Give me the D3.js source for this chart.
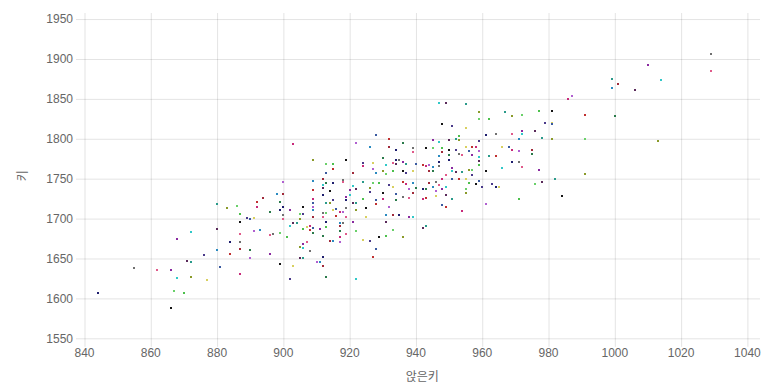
<!DOCTYPE html>
<html>
<head>
<meta charset="utf-8">
<script src="https://cdn.jsdelivr.net/npm/d3@7/dist/d3.min.js"></script>
<style>
  html, body { margin: 0; padding: 0; background: #fff; }
  svg { display: block; }
  text { font-family: "Liberation Sans", Arial, "Noto Sans CJK KR", sans-serif; }
</style>
</head>
<body>
<svg id="chart" width="779" height="388"></svg>
<script>
// sitting height (앉은키) and height (키) per person
const sittingHeight = [
  844,855,862,866,868,871,872,872,867,870,866,876,877,881,884,887,890,880,887,890,
  884,887,887,868,872,880,880,883,886,887,887,889,891,890,892,892,891,893,894,896,
  899,897,896,896,947,949,955,959,959,962,948,951,955,928,932,903,922,926,932,936,
  934,939,939,945,947,950,952,953,945,948,950,952,955,956,957,958,959,947,948,950,
  950,953,954,957,959,959,962,909,913,915,919,924,927,913,915,924,927,928,921,930,
  934,935,933,936,931,934,937,930,931,933,936,937,939,940,942,943,944,945,944,945,
  947,947,949,951,951,952,954,956,957,959,961,957,955,951,953,948,900,909,912,913,
  915,918,918,920,921,922,924,926,927,929,930,932,933,934,936,937,938,939,939,940,
  942,946,947,948,949,949,951,955,955,956,958,960,946,948,949,954,961,898,900,899,
  900,900,900,902,902,903,904,905,905,906,906,906,907,909,909,909,909,909,909,909,
  912,912,912,911,912,912,913,914,913,913,914,915,915,916,916,917,918,917,917,917,
  919,919,919,919,920,921,922,922,922,924,925,926,925,928,928,930,932,931,933,934,
  935,936,938,938,939,942,943,936,933,931,929,926,924,928,927,917,917,915,914,912,
  912,908,907,906,906,905,906,905,899,901,899,902,903,909,908,908,910,911,912,913,
  913,918,919,921,922,931,967,969,972,977,981,979,981,981,991,986,987,999,1001,1000,
  961,964,969,972,972,976,978,981,991,953,943,959,966,968,964,969,971,971,975,975,
  969,971,972,977,966,978,982,991,976,971,984,963,965,959,943,942,946,945,944,943,
  964,1029,1029,1010,1014,1006,999,1013
];
const height = [
  1607,1638,1636,1636,1626,1647,1645,1627,1609,1607,1588,1654,1623,1639,1656,1631,1650,1661,1662,1661,
  1671,1671,1681,1675,1683,1687,1718,1713,1716,1706,1696,1701,1701,1699,1721,1715,1684,1686,1726,1708,
  1711,1681,1679,1656,1845,1845,1844,1834,1825,1825,1819,1816,1813,1805,1800,1794,1795,1790,1790,1795,
  1786,1788,1783,1798,1796,1798,1800,1798,1788,1788,1786,1786,1790,1785,1790,1790,1785,1778,1783,1780,
  1773,1781,1780,1780,1777,1772,1779,1773,1769,1769,1773,1770,1770,1757,1762,1766,1762,1757,1757,1776,
  1773,1773,1770,1771,1767,1768,1768,1759,1756,1760,1760,1757,1760,1768,1767,1766,1767,1765,1760,1760,
  1771,1766,1755,1764,1760,1758,1758,1761,1761,1767,1760,1754,1750,1750,1750,1750,1746,1747,1749,1745,
  1744,1748,1746,1736,1741,1737,1746,1738,1745,1745,1732,1742,1739,1731,1746,1743,1737,1744,1732,1738,
  1737,1746,1742,1737,1739,1730,1725,1732,1737,1744,1743,1740,1728,1717,1715,1709,1718,1731,1731,1721,
  1715,1705,1700,1711,1691,1694,1694,1700,1706,1687,1715,1706,1690,1719,1736,1725,1715,1711,1702,1682,
  1730,1707,1702,1687,1742,1738,1719,1719,1707,1690,1734,1723,1711,1712,1703,1708,1708,1695,1691,1685,
  1723,1713,1702,1727,1730,1720,1720,1711,1684,1724,1713,1733,1702,1723,1718,1725,1715,1705,1704,1723,
  1705,1727,1726,1702,1702,1688,1691,1677,1686,1678,1677,1672,1673,1662,1652,1677,1671,1672,1672,1678,
  1652,1660,1671,1668,1663,1651,1651,1665,1682,1677,1643,1624,1641,1688,1686,1691,1646,1646,1641,1627,
  1696,1695,1681,1696,1624,1696,1834,1828,1830,1835,1835,1820,1820,1818,1830,1850,1854,1864,1869,1829,
  1805,1806,1806,1810,1806,1810,1801,1800,1800,1804,1788,1797,1790,1790,1778,1786,1785,1800,1786,1781,
  1771,1771,1765,1761,1763,1746,1750,1756,1743,1725,1728,1743,1740,1747,1726,1724,1734,1740,1745,1737,
  1739,1906,1885,1893,1874,1861,1875,1797
];
const xTicks = [840, 860, 880, 900, 920, 940, 960, 980, 1000, 1020, 1040];
const yTicks = [1550, 1600, 1650, 1700, 1750, 1800, 1850, 1900, 1950];
const pointColors = [
  "#1e1e6e", "#8a2aa0", "#2a9a8a", "#4cc04c", "#d8d060", "#c82a7a",
  "#a02a3a", "#707070", "#30c8c8", "#8a9a2a", "#141414", "#3a5aa0",
  "#b060d0", "#2a7a4a", "#e05a8a", "#5a2a5a", "#6ad06a", "#4a3a8a",
  "#c03030", "#2a8ac0"
];
const xTitle = "앉은키";
const yTitle = "키";

(function () {
const svg = d3.select("#chart");
const pLeft = 84.5, pRight = 760, pTop = 13, pBottom = 338.3;

const x = d3.scaleLinear().domain([840, 1043.8]).range([pLeft, pRight]);
const y = d3.scaleLinear().domain([1550, 1957.6]).range([pBottom, pTop]);

const gridColor = "rgba(0,0,0,0.11)";
const textColor = "#666";

// vertical grid lines + bottom tick marks
const gx = svg.append("g").attr("transform", `translate(0,${pBottom})`)
  .call(d3.axisBottom(x).tickValues(xTicks).tickSize(-(pBottom - pTop)).tickSizeOuter(0).tickFormat(""));
gx.select(".domain").remove();
gx.selectAll(".tick line").attr("stroke", gridColor).attr("y1", 8.5);

const gy = svg.append("g").attr("transform", `translate(${pLeft},0)`)
  .call(d3.axisLeft(y).tickValues(yTicks).tickSize(-(pRight - pLeft)).tickSizeOuter(0).tickFormat(""));
gy.select(".domain").remove();
gy.selectAll(".tick line").attr("stroke", gridColor).attr("x1", -8.5);

// tick labels
svg.append("g").selectAll("text").data(xTicks).join("text")
  .attr("x", d => x(d)).attr("y", pBottom + 19)
  .attr("text-anchor", "middle").attr("font-size", 12).attr("fill", textColor)
  .text(d => d);
svg.append("g").selectAll("text").data(yTicks).join("text")
  .attr("x", 73).attr("y", d => y(d) + 4.3)
  .attr("text-anchor", "end").attr("font-size", 12).attr("fill", textColor)
  .text(d => d);

// axis titles
svg.append("text").attr("x", (pLeft + pRight) / 2).attr("y", 381)
  .attr("text-anchor", "middle").attr("font-size", 12).attr("fill", textColor).text(xTitle);
svg.append("text").attr("transform", `translate(26.5,${(pTop + pBottom) / 2}) rotate(-90)`)
  .attr("text-anchor", "middle").attr("font-size", 12).attr("fill", textColor).text(yTitle);

// points
const data = sittingHeight.map((v, i) => ({ sx: v, h: height[i], c: pointColors[(i * 7) % pointColors.length] }));
svg.append("g").selectAll("rect").data(data).join("rect")
  .attr("x", d => Math.round(x(d.sx)) - 1)
  .attr("y", d => Math.round(y(d.h)) - 1)
  .attr("width", 2).attr("height", 2)
  .attr("fill", d => d.c);
})();
</script>
</body>
</html>
